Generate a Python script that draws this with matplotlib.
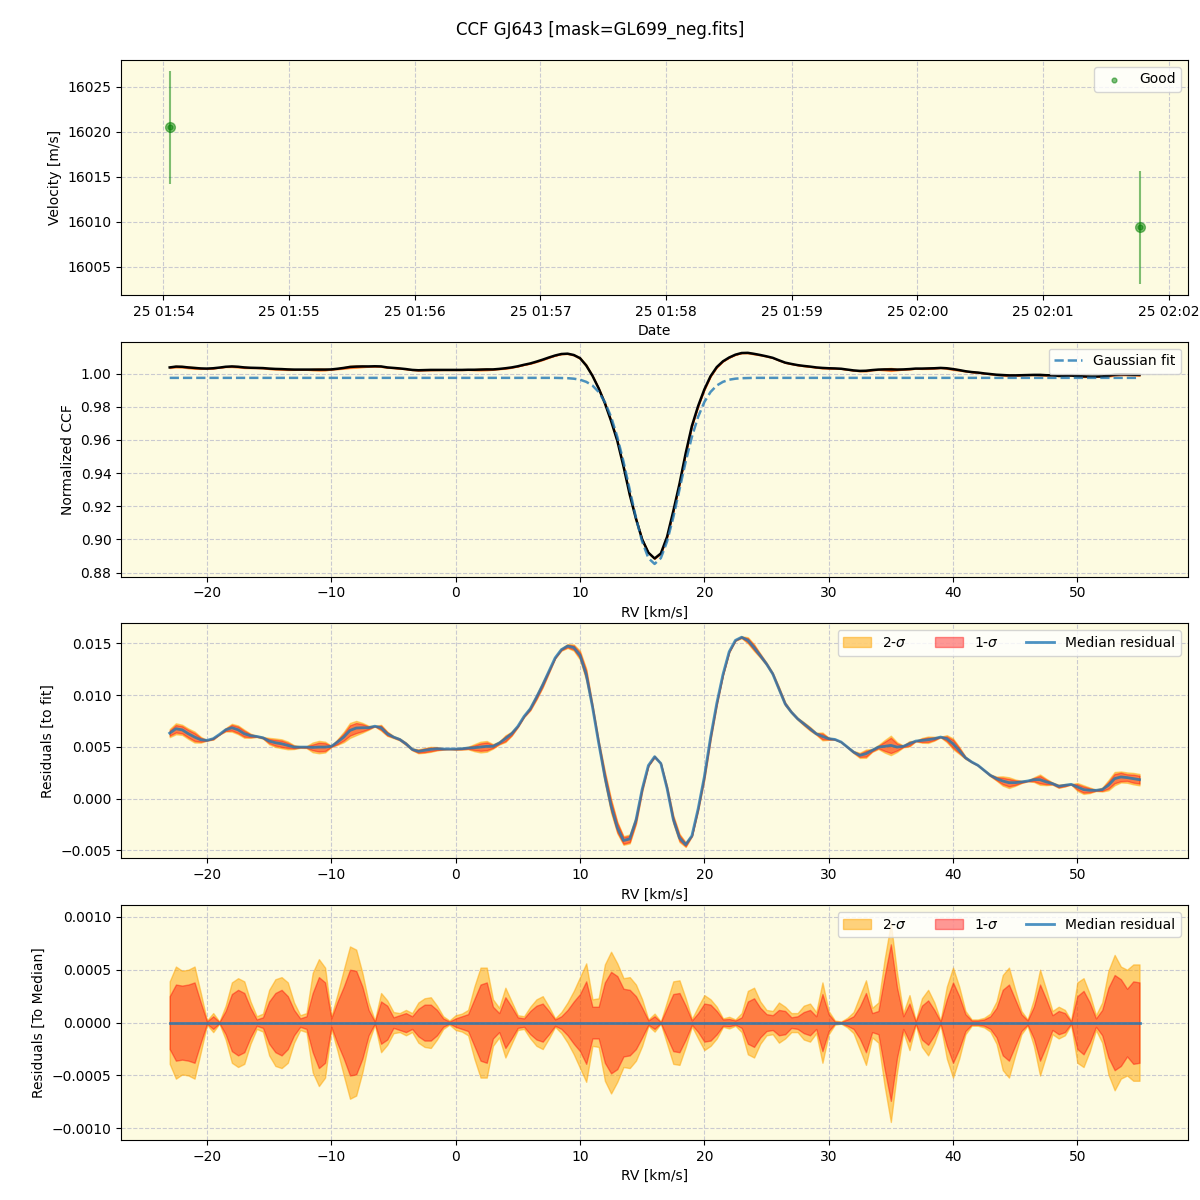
import datetime as dt
import numpy as np
import matplotlib
matplotlib.use("Agg")
import matplotlib.pyplot as plt

# --- RV time series (top panel)
dates = [dt.datetime(2023, 6, 25, 1, 54, 3), dt.datetime(2023, 6, 25, 2, 1, 46)]
velocity = [16020.5, 16009.4]
velocity_err = [6.3, 6.3]

# --- CCF velocity grid [km/s]
rv = np.linspace(-23.0, 55.0, 157)

# median normalized CCF
ccf = [
    1.0038, 1.0043, 1.0042, 1.0038, 1.0035, 1.0032, 1.0031, 1.0033, 1.0037, 1.0042,
    1.0044, 1.0042, 1.0038, 1.0036, 1.0035, 1.0034, 1.0031, 1.0029, 1.0028, 1.0026,
    1.0025, 1.0025, 1.0025, 1.0025, 1.0025, 1.0025, 1.0026, 1.0030, 1.0035, 1.0041,
    1.0043, 1.0044, 1.0044, 1.0045, 1.0044, 1.0038, 1.0035, 1.0032, 1.0028, 1.0023,
    1.0021, 1.0022, 1.0023, 1.0023, 1.0023, 1.0023, 1.0023, 1.0023, 1.0024, 1.0024,
    1.0025, 1.0026, 1.0026, 1.0029, 1.0033, 1.0038, 1.0045, 1.0054, 1.0062, 1.0073,
    1.0085, 1.0098, 1.0110, 1.0119, 1.0121, 1.0113, 1.0094, 1.0050, 0.9988, 0.9912,
    0.9822, 0.9715, 0.9595, 0.9440, 0.9270, 0.9125, 0.9000, 0.8920, 0.8885, 0.8915,
    0.9015, 0.9170, 0.9335, 0.9520, 0.9685, 0.9805, 0.9905, 0.9985, 1.0040, 1.0075,
    1.0098, 1.0115, 1.0125, 1.0126, 1.0120, 1.0113, 1.0105, 1.0096, 1.0081, 1.0067,
    1.0059, 1.0052, 1.0047, 1.0043, 1.0038, 1.0035, 1.0033, 1.0032, 1.0030, 1.0025,
    1.0020, 1.0017, 1.0018, 1.0022, 1.0025, 1.0026, 1.0026, 1.0025, 1.0026, 1.0028,
    1.0031, 1.0031, 1.0032, 1.0033, 1.0035, 1.0033, 1.0028, 1.0022, 1.0015, 1.0010,
    1.0007, 1.0002, 0.9998, 0.9994, 0.9992, 0.9990, 0.9990, 0.9991, 0.9992, 0.9993,
    0.9993, 0.9991, 0.9990, 0.9987, 0.9988, 0.9989, 0.9986, 0.9984, 0.9983, 0.9983,
    0.9984, 0.9988, 0.9994, 0.9996, 0.9995, 0.9994, 0.9993,
]

# gaussian fit evaluated on the grid
gauss_fit = [0.9975] * 62 + [
    0.9975, 0.9974, 0.9973, 0.9970, 0.9964, 0.9951, 0.9929, 0.9890, 0.9829, 0.9740,
    0.9619, 0.9469, 0.9301, 0.9132, 0.8987, 0.8887, 0.8852, 0.8887, 0.8987, 0.9132,
    0.9301, 0.9469, 0.9619, 0.9740, 0.9829, 0.9890, 0.9929, 0.9951, 0.9964, 0.9970,
    0.9973, 0.9974,
] + [0.9975] * 63

# median residual to fit [1e-3]
resid = [
    6.33, 6.75, 6.65, 6.27, 5.95, 5.69, 5.63, 5.79, 6.20, 6.65,
    6.85, 6.65, 6.27, 6.08, 6.01, 5.88, 5.56, 5.40, 5.30, 5.14,
    4.98, 4.98, 4.98, 4.95, 4.98, 4.98, 5.05, 5.47, 5.95, 6.59,
    6.82, 6.85, 6.85, 7.00, 6.85, 6.27, 5.95, 5.72, 5.30, 4.76,
    4.57, 4.66, 4.76, 4.82, 4.79, 4.79, 4.79, 4.82, 4.89, 4.92,
    4.98, 5.05, 5.05, 5.37, 5.79, 6.27, 6.98, 7.94, 8.68, 9.80,
    11.00, 12.30, 13.60, 14.40, 14.75, 14.60, 13.86, 12.00, 8.90, 5.40,
    2.10, -0.70, -2.80, -4.05, -3.90, -2.10, 0.90, 3.20, 4.05, 3.40,
    1.00, -2.00, -3.80, -4.45, -3.60, -1.00, 2.10, 5.90, 9.20, 12.00,
    14.20, 15.30, 15.60, 15.30, 14.60, 13.82, 13.02, 12.06, 10.61, 9.16,
    8.36, 7.72, 7.23, 6.75, 6.27, 6.01, 5.79, 5.72, 5.47, 4.98,
    4.50, 4.18, 4.34, 4.66, 4.98, 5.05, 5.14, 4.98, 5.05, 5.30,
    5.56, 5.63, 5.69, 5.79, 5.95, 5.79, 5.30, 4.66, 3.95, 3.54,
    3.22, 2.73, 2.25, 1.93, 1.70, 1.54, 1.54, 1.61, 1.70, 1.83,
    1.83, 1.61, 1.45, 1.19, 1.29, 1.38, 1.13, 0.87, 0.80, 0.80,
    0.87, 1.29, 1.93, 2.09, 2.03, 1.93, 1.83,
]

# 1-sigma and 2-sigma half widths around the median [1e-4]
sig1 = [
    2.5, 3.6, 3.5, 3.6, 3.8, 1.9, 0.1, 0.6, 0.05, 1.1,
    2.7, 3.1, 2.8, 1.4, 0.3, 0.5, 2.0, 2.8, 3.1, 2.5,
    1.2, 0.4, 0.6, 2.8, 4.3, 3.8, 0.4, 2.0, 3.4, 5.0,
    4.9, 3.4, 1.2, 0.1, 2.0, 1.6, 0.5, 0.7, 0.9, 0.6,
    1.3, 1.7, 1.7, 1.2, 0.4, 0.1, 0.4, 0.6, 0.8, 2.2,
    3.6, 3.8, 1.5, 0.9, 2.4, 1.5, 0.5, 0.4, 1.1, 1.6,
    1.8, 1.1, 0.3, 0.6, 1.2, 2.0, 2.7, 3.9, 1.5, 1.5,
    3.8, 4.8, 4.4, 3.2, 3.1, 2.5, 1.4, 0.2, 0.6, 0.05,
    1.4, 2.7, 2.8, 1.6, 0.2, 0.9, 1.8, 1.7, 1.1, 0.3,
    0.35, 0.2, 0.5, 2.0, 2.3, 1.4, 0.8, 0.7, 1.2, 1.1,
    0.5, 0.6, 1.0, 1.2, 0.6, 2.7, 0.8, 0.1, 0.05, 0.3,
    0.6, 1.5, 2.8, 0.9, 1.1, 4.4, 7.4, 3.3, 0.6, 1.8,
    0.1, 1.6, 2.1, 1.2, 0.1, 2.2, 3.8, 2.5, 0.8, 0.2,
    0.2, 0.3, 0.6, 1.4, 3.1, 3.6, 2.2, 0.8, 0.2, 1.5,
    3.6, 2.2, 0.7, 1.1, 0.9, 0.1, 2.5, 3.0, 1.9, 0.4,
    1.2, 3.3, 4.5, 4.1, 3.2, 3.9, 3.8,
]
sig2 = [
    3.9, 5.3, 4.9, 5.0, 5.3, 2.8, 0.2, 0.9, 0.1, 1.6,
    3.8, 4.2, 3.9, 2.0, 0.6, 0.85, 3.1, 4.1, 4.3, 3.8,
    1.9, 0.7, 0.9, 4.7, 6.0, 5.2, 0.6, 2.7, 5.0, 7.2,
    6.9, 4.7, 1.9, 0.2, 2.8, 2.1, 1.0, 0.9, 1.2, 0.9,
    1.9, 2.3, 2.4, 1.6, 0.6, 0.2, 0.7, 0.85, 1.2, 3.4,
    5.2, 5.2, 2.2, 1.4, 3.3, 2.0, 0.7, 0.6, 1.5, 2.2,
    2.5, 1.5, 0.4, 1.0, 1.9, 3.0, 4.3, 5.6, 2.2, 2.3,
    5.5, 6.7, 5.6, 4.2, 4.3, 3.6, 2.2, 0.3, 0.85, 0.1,
    2.0, 3.9, 4.0, 2.3, 0.35, 1.5, 2.6, 2.2, 1.5, 0.4,
    0.55, 0.3, 0.9, 3.0, 3.3, 2.0, 1.2, 1.1, 1.9, 1.5,
    0.9, 0.9, 1.6, 1.8, 1.0, 3.8, 1.1, 0.2, 0.1, 0.45,
    1.0, 2.5, 4.0, 1.4, 1.9, 6.0, 9.4, 4.7, 0.9, 2.6,
    0.2, 2.3, 3.1, 1.9, 0.2, 3.4, 5.2, 3.4, 1.1, 0.3,
    0.3, 0.45, 0.85, 2.0, 4.5, 5.2, 3.1, 1.1, 0.3, 2.2,
    5.0, 3.1, 1.1, 1.5, 1.2, 0.2, 3.8, 4.2, 2.7, 0.7,
    1.9, 4.9, 6.4, 5.3, 5.0, 5.5, 5.5,
]

ccf = np.array(ccf)
gauss_fit = np.array(gauss_fit)
resid = np.array(resid) * 1e-3
s1 = np.array(sig1) * 1e-4
s2 = np.array(sig2) * 1e-4
zero = np.zeros_like(rv)

bg = "#fdfbe1"
fig, axes = plt.subplots(4, 1, figsize=(12, 12), dpi=100)
fig.subplots_adjust(left=0.101, right=0.99, top=0.95, bottom=0.05, hspace=0.2)
fig.suptitle("CCF GJ643 [mask=GL699_neg.fits]", fontsize=12, y=0.983)

for ax in axes:
    ax.set_facecolor(bg)
    ax.grid(True, linestyle="--", color="#cacad0", lw=0.8)
    ax.set_axisbelow(True)

# top: RV vs date
ax = axes[0]
ax.errorbar(dates, velocity, yerr=velocity_err, fmt="o", color="green", alpha=0.5, ms=7)
ax.scatter(dates, velocity, color="green", alpha=0.5, s=12, label="Good")
ax.set_xlabel("Date")
ax.set_ylabel("Velocity [m/s]")
ax.ticklabel_format(axis="y", useOffset=False)
ax.legend(loc="upper right")

# CCF with gaussian fit
ax = axes[1]
ax.fill_between(rv, ccf - s2, ccf + s2, color="orange", alpha=0.5)
ax.fill_between(rv, ccf - s1, ccf + s1, color="red", alpha=0.4)
ax.plot(rv, ccf, color="k", lw=1.8)
ax.plot(rv, gauss_fit, "--", color="C0", alpha=0.8, lw=1.8, label="Gaussian fit")
ax.set_ylim(0.8776, 1.0193)
ax.set_xlabel("RV [km/s]")
ax.set_ylabel("Normalized CCF")
ax.legend(loc="upper right")

# residuals to fit
ax = axes[2]
ax.fill_between(rv, resid - s2, resid + s2, color="orange", alpha=0.5, label="2-$\\sigma$")
ax.fill_between(rv, resid - s1, resid + s1, color="red", alpha=0.4, label="1-$\\sigma$")
ax.plot(rv, resid, color="C0", alpha=0.8, lw=2, label="Median residual")
ax.set_ylim(-0.00577, 0.01693)
ax.set_xlabel("RV [km/s]")
ax.set_ylabel("Residuals [to fit]")
ax.legend(loc="upper right", ncol=3)

# residuals to median
ax = axes[3]
ax.fill_between(rv, -s2, s2, color="orange", alpha=0.5, label="2-$\\sigma$")
ax.fill_between(rv, -s1, s1, color="red", alpha=0.4, label="1-$\\sigma$")
ax.plot(rv, zero, color="C0", alpha=0.8, lw=2, label="Median residual")
ax.set_ylim(-0.00111, 0.00111)
ax.set_xlabel("RV [km/s]")
ax.set_ylabel("Residuals [To Median]")
ax.legend(loc="upper right", ncol=3)

fig.savefig("out.png")
